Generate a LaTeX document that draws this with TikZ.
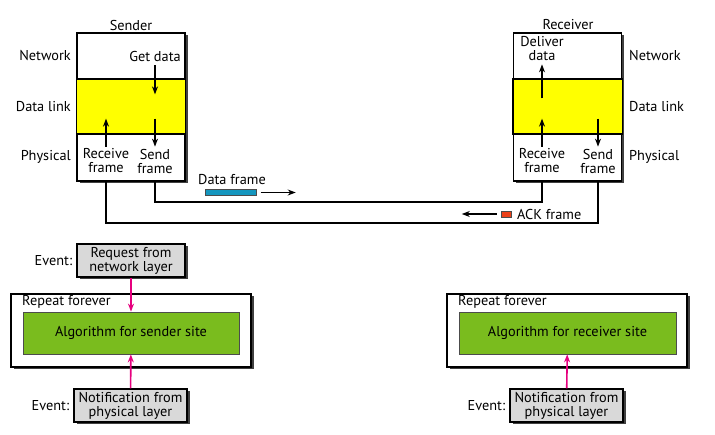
\documentclass[tikz,border=0pt]{standalone}
\usepackage{fontspec}
\setmainfont{PT Sans}
\usetikzlibrary{positioning,shadows,arrows.meta}
\definecolor{linkyellow}{RGB}{255,255,0}
\definecolor{algogreen}{RGB}{122,188,30}
\definecolor{eventgray}{RGB}{217,217,217}
\definecolor{eventpink}{RGB}{230,0,126}
\definecolor{datablue}{RGB}{20,150,190}
\definecolor{ackred}{RGB}{235,65,25}
\begin{document}
\begin{tikzpicture}[x=1pt,y=-1pt,
    every node/.style={font=\fontsize{14.3}{14}\selectfont, inner sep=0pt, align=center},
    shade box/.style={drop shadow={shadow xshift=2.5pt,shadow yshift=-2.5pt,fill=black!75,opacity=1}},
    stackbox/.style={draw, fill=white, line width=1.2pt, minimum width=108pt, minimum height=148pt, shade box},
    eventbox/.style={draw, fill=eventgray, line width=1.2pt, minimum height=33pt, shade box},
    loopbox/.style={draw, fill=white, line width=1.2pt, minimum width=240pt, minimum height=73pt, shade box},
    algbox/.style={draw=black!70, fill=algogreen, line width=0.8pt, minimum height=42pt},
    arr/.style={line width=1.3pt, -{Stealth[length=8pt,width=6pt]}},
    evarr/.style={draw=eventpink, line width=1.6pt, -{Stealth[length=8pt,width=6pt]}},
    wire/.style={line width=2pt}]
    \useasboundingbox (0,0) rectangle (715,435);
    % sender and receiver stacks
    \node[stackbox] (sbox) at (131,107) {};
    \node[stackbox] (rbox) at (567.5,107) {};
    \draw[fill=linkyellow, line width=1.2pt] (sbox.west |- 0,79) rectangle (sbox.east |- 0,134);
    \draw[fill=linkyellow, line width=1.2pt] (rbox.west |- 0,79) rectangle (rbox.east |- 0,134);
    \node (sname) at (131,25) {Sender};
    \node (rname) at (568,25) {Receiver};
    \node[anchor=east] (netS) at (71,56) {Network};
    \node[anchor=east] (dlS) at (71,107) {Data link};
    \node[anchor=east] (phS) at (71,157) {Physical};
    \node[anchor=west] (netR) at (629,56) {Network};
    \node[anchor=west] (dlR) at (629,107) {Data link};
    \node[anchor=west] (phR) at (629,157) {Physical};
    \node (getS) at (155,56) {Get data};
    \node (rcvS) at (106,161) {Receive\\frame};
    \node (sndS) at (155,161) {Send\\frame};
    \node (dlvR) at (542,49) {Deliver\\data};
    \node (rcvR) at (542,161) {Receive\\frame};
    \node (sndR) at (598,161) {Send\\frame};
    \draw[arr] ([yshift=-4pt]getS.south) -- ++(0,29);
    \draw[arr] (sndS.north) ++(0,-30) -- ([yshift=2pt]sndS.north);
    \draw[arr] ([yshift=2pt]rcvS.north) -- ++(0,-28);
    \draw[arr] ([yshift=2pt]rcvR.north) -- ++(0,-28);
    \draw[arr] (sndR.north) ++(0,-30) -- ([yshift=2pt]sndR.north);
    \draw[arr] (dlvR.south) ++(0,37) -- ([yshift=-3pt]dlvR.south);
    % link between the two sites
    \draw[wire] (sndS |- sbox.south) -- ++(0,20) -| (rcvR |- rbox.south);
    \draw[wire] (rcvS |- sbox.south) -- ++(0,41) -| (sndR |- rbox.south);
    \node (dfl) at (232,180) {Data frame};
    \node[draw=black!70, fill=datablue, minimum width=51pt, minimum height=6pt] (dfr) at (231,192.5) {};
    \draw[arr] ([xshift=4pt]dfr.east) -- ++(35,0);
    \node[draw=black!70, fill=ackred, minimum width=10pt, minimum height=6pt] (ackr) at (506,214) {};
    \node[anchor=west] (ackl) at (517,214) {ACK frame};
    \draw[arr] ([xshift=-4pt]ackr.west) -- ++(-35,0);
    % sender site algorithm
    \node[loopbox] (sloop) at (131,330.5) {};
    \node[anchor=west] (srep) at (22,302) {Repeat forever};
    \node[algbox, minimum width=216pt] (salg) at (131,333) {Algorithm for sender site};
    \node[eventbox, minimum width=108pt] (sreq) at (131,260.5) {Request from\\network layer};
    \node[eventbox, minimum width=113pt] (snot) at (130.5,405.5) {Notification from\\physical layer};
    \node[left=4pt of sreq] (sev1) {Event:};
    \node[left=4pt of snot] (sev2) {Event:};
    \draw[evarr] (sreq) -- (salg);
    \draw[evarr] (snot) -- (salg);
    % receiver site algorithm
    \node[loopbox] (rloop) at (567,330.5) {};
    \node[anchor=west] (rrep) at (458,302) {Repeat forever};
    \node[algbox, minimum width=217pt] (ralg) at (567.5,333) {Algorithm for receiver site};
    \node[eventbox, minimum width=113pt] (rnot) at (566.5,405.5) {Notification from\\physical layer};
    \node[left=4pt of rnot] (rev) {Event:};
    \draw[evarr] (rnot) -- (ralg);
\end{tikzpicture}
\end{document}
